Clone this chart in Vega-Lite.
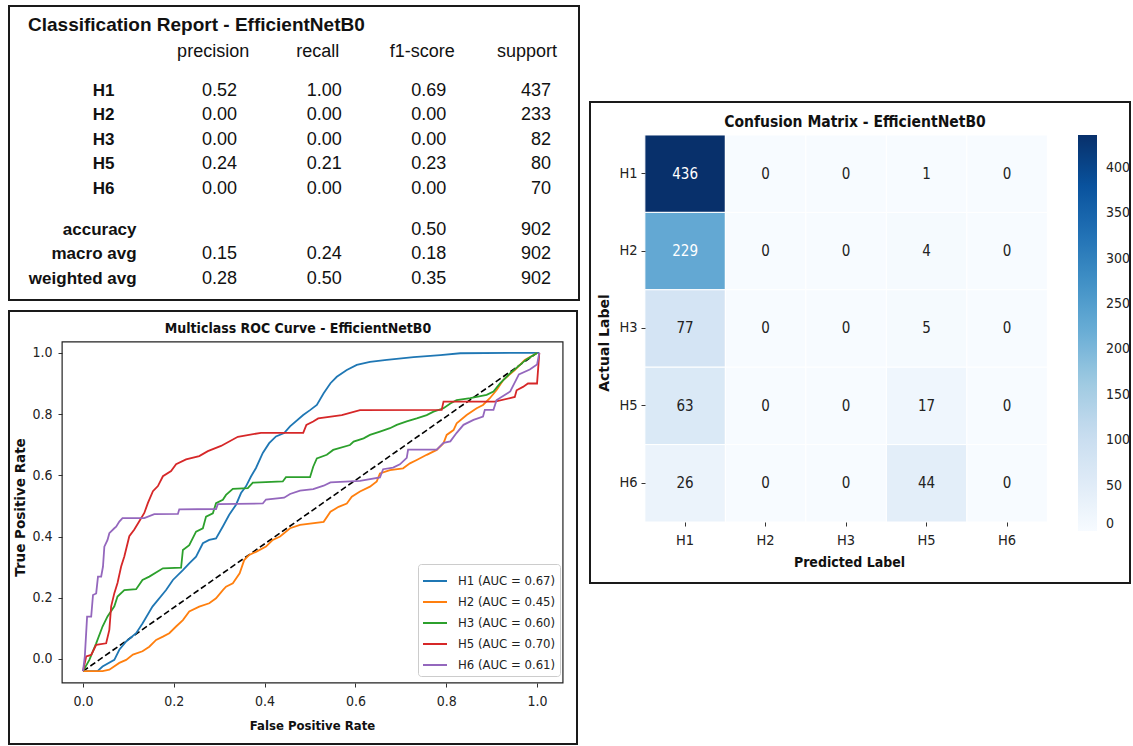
{
  "$schema": "https://vega.github.io/schema/vega-lite/v6.json",
  "background": "white",
  "padding": {"left": 8, "top": 5, "right": 0, "bottom": 0},
  "spacing": 9,
  "align": "none",
  "config": {
    "font": "DejaVu Sans Condensed",
    "axis": {"grid": false, "labelFont": "DejaVu Sans Condensed", "titleFont": "DejaVu Sans Condensed", "labelColor": "#222", "titleColor": "#111", "tickColor": "#333"},
    "title": {"color": "#111"}
  },
  "hconcat": [
    {
      "vconcat": [
        {
          "width": 570,
          "height": 294,
          "view": {"stroke": "#1a1a1a", "strokeWidth": 2},
          "title": {"text": "Classification Report - EfficientNetB0", "anchor": "start", "dx": 19, "offset": -29, "font": "Liberation Sans", "fontSize": 19, "fontWeight": "bold"},
          "data": {"values": [
            {"row": "header", "col": "precision", "text": "precision"},
            {"row": "header", "col": "recall", "text": "recall"},
            {"row": "header", "col": "f1-score", "text": "f1-score"},
            {"row": "header", "col": "support", "text": "support"},
            {"row": "H1", "col": "label", "text": "H1"},
            {"row": "H1", "col": "precision", "text": "0.52"},
            {"row": "H1", "col": "recall", "text": "1.00"},
            {"row": "H1", "col": "f1-score", "text": "0.69"},
            {"row": "H1", "col": "support", "text": "437"},
            {"row": "H2", "col": "label", "text": "H2"},
            {"row": "H2", "col": "precision", "text": "0.00"},
            {"row": "H2", "col": "recall", "text": "0.00"},
            {"row": "H2", "col": "f1-score", "text": "0.00"},
            {"row": "H2", "col": "support", "text": "233"},
            {"row": "H3", "col": "label", "text": "H3"},
            {"row": "H3", "col": "precision", "text": "0.00"},
            {"row": "H3", "col": "recall", "text": "0.00"},
            {"row": "H3", "col": "f1-score", "text": "0.00"},
            {"row": "H3", "col": "support", "text": "82"},
            {"row": "H5", "col": "label", "text": "H5"},
            {"row": "H5", "col": "precision", "text": "0.24"},
            {"row": "H5", "col": "recall", "text": "0.21"},
            {"row": "H5", "col": "f1-score", "text": "0.23"},
            {"row": "H5", "col": "support", "text": "80"},
            {"row": "H6", "col": "label", "text": "H6"},
            {"row": "H6", "col": "precision", "text": "0.00"},
            {"row": "H6", "col": "recall", "text": "0.00"},
            {"row": "H6", "col": "f1-score", "text": "0.00"},
            {"row": "H6", "col": "support", "text": "70"},
            {"row": "accuracy", "col": "label", "text": "accuracy"},
            {"row": "accuracy", "col": "f1-score", "text": "0.50"},
            {"row": "accuracy", "col": "support", "text": "902"},
            {"row": "macro avg", "col": "label", "text": "macro avg"},
            {"row": "macro avg", "col": "precision", "text": "0.15"},
            {"row": "macro avg", "col": "recall", "text": "0.24"},
            {"row": "macro avg", "col": "f1-score", "text": "0.18"},
            {"row": "macro avg", "col": "support", "text": "902"},
            {"row": "weighted avg", "col": "label", "text": "weighted avg"},
            {"row": "weighted avg", "col": "precision", "text": "0.28"},
            {"row": "weighted avg", "col": "recall", "text": "0.50"},
            {"row": "weighted avg", "col": "f1-score", "text": "0.35"},
            {"row": "weighted avg", "col": "support", "text": "902"}
          ]},
          "encoding": {
            "x": {"field": "col", "type": "ordinal", "axis": null, "scale": {"type": "point", "domain": ["label", "precision", "recall", "f1-score", "support"], "padding": 0.7245, "align": 0.815}},
            "y": {"field": "row", "type": "ordinal", "axis": null, "scale": {"type": "point", "domain": ["", " ", "header", "H1", "H2", "H3", "H5", "H6", "accuracy", "macro avg", "weighted avg", "  "], "padding": 0.5, "align": 0.469}},
            "text": {"field": "text"}
          },
          "layer": [
            {"transform": [{"filter": "datum.row === 'header'"}], "mark": {"type": "text", "align": "center", "dx": -24, "dy": -14.5, "font": "Liberation Sans", "fontSize": 18, "color": "#111"}},
            {"transform": [{"filter": "datum.col !== 'label' && datum.row !== 'header' && indexof(['accuracy','macro avg','weighted avg'], datum.row) < 0"}], "mark": {"type": "text", "align": "right", "font": "Liberation Sans", "fontSize": 18, "color": "#111"}},
            {"transform": [{"filter": "datum.col !== 'label' && indexof(['accuracy','macro avg','weighted avg'], datum.row) >= 0"}], "mark": {"type": "text", "align": "right", "dy": 16.5, "font": "Liberation Sans", "fontSize": 18, "color": "#111"}},
            {"transform": [{"filter": "datum.col === 'label' && indexof(['accuracy','macro avg','weighted avg'], datum.row) < 0"}], "mark": {"type": "text", "align": "center", "dx": -29, "font": "Liberation Sans", "fontSize": 17, "fontWeight": "bold", "color": "#111"}},
            {"transform": [{"filter": "datum.col === 'label' && indexof(['accuracy','macro avg','weighted avg'], datum.row) >= 0"}], "mark": {"type": "text", "align": "right", "dx": 4, "dy": 16.5, "font": "Liberation Sans", "fontSize": 17, "fontWeight": "bold", "color": "#111"}}
          ]
        },
        {
          "width": 568,
          "height": 433,
          "view": {"stroke": "#1a1a1a", "strokeWidth": 2},
          "title": {"text": "Multiclass ROC Curve - EfficientNetB0", "anchor": "middle", "dx": 5, "offset": -25, "font": "DejaVu Sans Condensed", "fontSize": 14, "fontWeight": "bold"},
          "layer": [
            {
              "data": {"values": [{"frame": "axes"}]},
              "mark": {"type": "rect", "fillOpacity": 0, "stroke": "#222", "strokeWidth": 1.2},
              "encoding": {
                "x": {"datum": -0.046, "type": "quantitative", "scale": {"domain": [-0.163, 1.088], "nice": false, "zero": false},
                      "axis": {"title": "False Positive Rate", "offset": -61, "values": [0, 0.2, 0.4, 0.6, 0.8, 1.0], "format": ".1f", "domain": false, "tickSize": 4, "labelPadding": 7, "labelFontSize": 14, "titleFontSize": 13, "titleFontWeight": "bold", "titlePadding": 11, "titleX": 303}},
                "x2": {"datum": 1.057},
                "y": {"datum": 1.036, "type": "quantitative", "scale": {"domain": [-0.278, 1.137], "nice": false, "zero": false},
                      "axis": {"title": "True Positive Rate", "offset": -53, "values": [0, 0.2, 0.4, 0.6, 0.8, 1.0], "format": ".1f", "domain": false, "tickSize": 4, "labelPadding": 6, "labelFontSize": 14, "titleFont": "DejaVu Sans", "titleFontSize": 13.5, "titleFontWeight": "bold", "titlePadding": 4, "titleY": 196}},
                "y2": {"datum": -0.078}
              }
            },
            {
              "data": {"values": [{"fpr": 0, "tpr": -0.04}, {"fpr": 1, "tpr": 1}]},
              "mark": {"type": "line", "color": "black", "strokeWidth": 1.6, "strokeDash": [6, 3]},
              "encoding": {
                "x": {"field": "fpr", "type": "quantitative", "scale": {"domain": [-0.163, 1.088], "nice": false, "zero": false},
                      "axis": {"title": "False Positive Rate", "offset": -61, "values": [0, 0.2, 0.4, 0.6, 0.8, 1.0], "format": ".1f", "domain": false, "tickSize": 4, "labelPadding": 7, "labelFontSize": 14, "titleFontSize": 13, "titleFontWeight": "bold", "titlePadding": 11, "titleX": 303}},
                "y": {"field": "tpr", "type": "quantitative", "scale": {"domain": [-0.278, 1.137], "nice": false, "zero": false},
                      "axis": {"title": "True Positive Rate", "offset": -53, "values": [0, 0.2, 0.4, 0.6, 0.8, 1.0], "format": ".1f", "domain": false, "tickSize": 4, "labelPadding": 6, "labelFontSize": 14, "titleFont": "DejaVu Sans", "titleFontSize": 13.5, "titleFontWeight": "bold", "titlePadding": 4, "titleY": 196}}
              }
            },
            {
              "data": {"values": [
                {"class": "H1 (AUC = 0.67)", "fpr": 0, "tpr": -0.04},
                {"class": "H1 (AUC = 0.67)", "fpr": 0.032, "tpr": -0.04},
                {"class": "H1 (AUC = 0.67)", "fpr": 0.043, "tpr": -0.025},
                {"class": "H1 (AUC = 0.67)", "fpr": 0.069, "tpr": -0.003},
                {"class": "H1 (AUC = 0.67)", "fpr": 0.08, "tpr": 0.03},
                {"class": "H1 (AUC = 0.67)", "fpr": 0.095, "tpr": 0.057},
                {"class": "H1 (AUC = 0.67)", "fpr": 0.117, "tpr": 0.084},
                {"class": "H1 (AUC = 0.67)", "fpr": 0.131, "tpr": 0.116},
                {"class": "H1 (AUC = 0.67)", "fpr": 0.153, "tpr": 0.171},
                {"class": "H1 (AUC = 0.67)", "fpr": 0.183, "tpr": 0.225},
                {"class": "H1 (AUC = 0.67)", "fpr": 0.198, "tpr": 0.258},
                {"class": "H1 (AUC = 0.67)", "fpr": 0.22, "tpr": 0.29},
                {"class": "H1 (AUC = 0.67)", "fpr": 0.234, "tpr": 0.312},
                {"class": "H1 (AUC = 0.67)", "fpr": 0.249, "tpr": 0.334},
                {"class": "H1 (AUC = 0.67)", "fpr": 0.264, "tpr": 0.378},
                {"class": "H1 (AUC = 0.67)", "fpr": 0.278, "tpr": 0.389},
                {"class": "H1 (AUC = 0.67)", "fpr": 0.293, "tpr": 0.394},
                {"class": "H1 (AUC = 0.67)", "fpr": 0.308, "tpr": 0.433},
                {"class": "H1 (AUC = 0.67)", "fpr": 0.322, "tpr": 0.471},
                {"class": "H1 (AUC = 0.67)", "fpr": 0.337, "tpr": 0.504},
                {"class": "H1 (AUC = 0.67)", "fpr": 0.348, "tpr": 0.542},
                {"class": "H1 (AUC = 0.67)", "fpr": 0.359, "tpr": 0.564},
                {"class": "H1 (AUC = 0.67)", "fpr": 0.37, "tpr": 0.596},
                {"class": "H1 (AUC = 0.67)", "fpr": 0.381, "tpr": 0.624},
                {"class": "H1 (AUC = 0.67)", "fpr": 0.396, "tpr": 0.673},
                {"class": "H1 (AUC = 0.67)", "fpr": 0.41, "tpr": 0.705},
                {"class": "H1 (AUC = 0.67)", "fpr": 0.425, "tpr": 0.727},
                {"class": "H1 (AUC = 0.67)", "fpr": 0.443, "tpr": 0.738},
                {"class": "H1 (AUC = 0.67)", "fpr": 0.456, "tpr": 0.76},
                {"class": "H1 (AUC = 0.67)", "fpr": 0.485, "tpr": 0.797},
                {"class": "H1 (AUC = 0.67)", "fpr": 0.5, "tpr": 0.813},
                {"class": "H1 (AUC = 0.67)", "fpr": 0.515, "tpr": 0.83},
                {"class": "H1 (AUC = 0.67)", "fpr": 0.53, "tpr": 0.868},
                {"class": "H1 (AUC = 0.67)", "fpr": 0.545, "tpr": 0.901},
                {"class": "H1 (AUC = 0.67)", "fpr": 0.559, "tpr": 0.922},
                {"class": "H1 (AUC = 0.67)", "fpr": 0.581, "tpr": 0.944},
                {"class": "H1 (AUC = 0.67)", "fpr": 0.603, "tpr": 0.961},
                {"class": "H1 (AUC = 0.67)", "fpr": 0.632, "tpr": 0.971},
                {"class": "H1 (AUC = 0.67)", "fpr": 0.669, "tpr": 0.977},
                {"class": "H1 (AUC = 0.67)", "fpr": 0.728, "tpr": 0.986},
                {"class": "H1 (AUC = 0.67)", "fpr": 0.787, "tpr": 0.993},
                {"class": "H1 (AUC = 0.67)", "fpr": 0.831, "tpr": 0.999},
                {"class": "H1 (AUC = 0.67)", "fpr": 0.95, "tpr": 1.0},
                {"class": "H1 (AUC = 0.67)", "fpr": 1.005, "tpr": 1.0},
                {"class": "H2 (AUC = 0.45)", "fpr": 0, "tpr": -0.04},
                {"class": "H2 (AUC = 0.45)", "fpr": 0.043, "tpr": -0.04},
                {"class": "H2 (AUC = 0.45)", "fpr": 0.058, "tpr": -0.035},
                {"class": "H2 (AUC = 0.45)", "fpr": 0.08, "tpr": -0.013},
                {"class": "H2 (AUC = 0.45)", "fpr": 0.095, "tpr": -0.003},
                {"class": "H2 (AUC = 0.45)", "fpr": 0.11, "tpr": 0.014},
                {"class": "H2 (AUC = 0.45)", "fpr": 0.131, "tpr": 0.025},
                {"class": "H2 (AUC = 0.45)", "fpr": 0.146, "tpr": 0.04},
                {"class": "H2 (AUC = 0.45)", "fpr": 0.161, "tpr": 0.062},
                {"class": "H2 (AUC = 0.45)", "fpr": 0.176, "tpr": 0.073},
                {"class": "H2 (AUC = 0.45)", "fpr": 0.19, "tpr": 0.084},
                {"class": "H2 (AUC = 0.45)", "fpr": 0.205, "tpr": 0.106},
                {"class": "H2 (AUC = 0.45)", "fpr": 0.22, "tpr": 0.127},
                {"class": "H2 (AUC = 0.45)", "fpr": 0.234, "tpr": 0.155},
                {"class": "H2 (AUC = 0.45)", "fpr": 0.256, "tpr": 0.171},
                {"class": "H2 (AUC = 0.45)", "fpr": 0.278, "tpr": 0.182},
                {"class": "H2 (AUC = 0.45)", "fpr": 0.293, "tpr": 0.198},
                {"class": "H2 (AUC = 0.45)", "fpr": 0.308, "tpr": 0.225},
                {"class": "H2 (AUC = 0.45)", "fpr": 0.315, "tpr": 0.236},
                {"class": "H2 (AUC = 0.45)", "fpr": 0.33, "tpr": 0.247},
                {"class": "H2 (AUC = 0.45)", "fpr": 0.345, "tpr": 0.28},
                {"class": "H2 (AUC = 0.45)", "fpr": 0.355, "tpr": 0.323},
                {"class": "H2 (AUC = 0.45)", "fpr": 0.366, "tpr": 0.34},
                {"class": "H2 (AUC = 0.45)", "fpr": 0.381, "tpr": 0.35},
                {"class": "H2 (AUC = 0.45)", "fpr": 0.403, "tpr": 0.367},
                {"class": "H2 (AUC = 0.45)", "fpr": 0.418, "tpr": 0.389},
                {"class": "H2 (AUC = 0.45)", "fpr": 0.434, "tpr": 0.4},
                {"class": "H2 (AUC = 0.45)", "fpr": 0.456, "tpr": 0.427},
                {"class": "H2 (AUC = 0.45)", "fpr": 0.478, "tpr": 0.438},
                {"class": "H2 (AUC = 0.45)", "fpr": 0.53, "tpr": 0.448},
                {"class": "H2 (AUC = 0.45)", "fpr": 0.545, "tpr": 0.481},
                {"class": "H2 (AUC = 0.45)", "fpr": 0.563, "tpr": 0.497},
                {"class": "H2 (AUC = 0.45)", "fpr": 0.581, "tpr": 0.508},
                {"class": "H2 (AUC = 0.45)", "fpr": 0.592, "tpr": 0.53},
                {"class": "H2 (AUC = 0.45)", "fpr": 0.61, "tpr": 0.547},
                {"class": "H2 (AUC = 0.45)", "fpr": 0.632, "tpr": 0.563},
                {"class": "H2 (AUC = 0.45)", "fpr": 0.647, "tpr": 0.58},
                {"class": "H2 (AUC = 0.45)", "fpr": 0.654, "tpr": 0.606},
                {"class": "H2 (AUC = 0.45)", "fpr": 0.676, "tpr": 0.617},
                {"class": "H2 (AUC = 0.45)", "fpr": 0.705, "tpr": 0.623},
                {"class": "H2 (AUC = 0.45)", "fpr": 0.72, "tpr": 0.639},
                {"class": "H2 (AUC = 0.45)", "fpr": 0.735, "tpr": 0.65},
                {"class": "H2 (AUC = 0.45)", "fpr": 0.757, "tpr": 0.667},
                {"class": "H2 (AUC = 0.45)", "fpr": 0.779, "tpr": 0.683},
                {"class": "H2 (AUC = 0.45)", "fpr": 0.794, "tpr": 0.705},
                {"class": "H2 (AUC = 0.45)", "fpr": 0.801, "tpr": 0.732},
                {"class": "H2 (AUC = 0.45)", "fpr": 0.816, "tpr": 0.748},
                {"class": "H2 (AUC = 0.45)", "fpr": 0.823, "tpr": 0.77},
                {"class": "H2 (AUC = 0.45)", "fpr": 0.845, "tpr": 0.797},
                {"class": "H2 (AUC = 0.45)", "fpr": 0.867, "tpr": 0.819},
                {"class": "H2 (AUC = 0.45)", "fpr": 0.881, "tpr": 0.83},
                {"class": "H2 (AUC = 0.45)", "fpr": 0.896, "tpr": 0.852},
                {"class": "H2 (AUC = 0.45)", "fpr": 0.911, "tpr": 0.879},
                {"class": "H2 (AUC = 0.45)", "fpr": 0.926, "tpr": 0.912},
                {"class": "H2 (AUC = 0.45)", "fpr": 0.951, "tpr": 0.944},
                {"class": "H2 (AUC = 0.45)", "fpr": 0.973, "tpr": 0.977},
                {"class": "H2 (AUC = 0.45)", "fpr": 1.0, "tpr": 1.0},
                {"class": "H3 (AUC = 0.60)", "fpr": 0, "tpr": -0.04},
                {"class": "H3 (AUC = 0.60)", "fpr": 0.014, "tpr": -0.003},
                {"class": "H3 (AUC = 0.60)", "fpr": 0.029, "tpr": 0.051},
                {"class": "H3 (AUC = 0.60)", "fpr": 0.043, "tpr": 0.106},
                {"class": "H3 (AUC = 0.60)", "fpr": 0.054, "tpr": 0.139},
                {"class": "H3 (AUC = 0.60)", "fpr": 0.069, "tpr": 0.172},
                {"class": "H3 (AUC = 0.60)", "fpr": 0.076, "tpr": 0.204},
                {"class": "H3 (AUC = 0.60)", "fpr": 0.091, "tpr": 0.225},
                {"class": "H3 (AUC = 0.60)", "fpr": 0.117, "tpr": 0.228},
                {"class": "H3 (AUC = 0.60)", "fpr": 0.131, "tpr": 0.258},
                {"class": "H3 (AUC = 0.60)", "fpr": 0.146, "tpr": 0.269},
                {"class": "H3 (AUC = 0.60)", "fpr": 0.176, "tpr": 0.296},
                {"class": "H3 (AUC = 0.60)", "fpr": 0.216, "tpr": 0.298},
                {"class": "H3 (AUC = 0.60)", "fpr": 0.22, "tpr": 0.356},
                {"class": "H3 (AUC = 0.60)", "fpr": 0.234, "tpr": 0.372},
                {"class": "H3 (AUC = 0.60)", "fpr": 0.249, "tpr": 0.416},
                {"class": "H3 (AUC = 0.60)", "fpr": 0.264, "tpr": 0.427},
                {"class": "H3 (AUC = 0.60)", "fpr": 0.271, "tpr": 0.465},
                {"class": "H3 (AUC = 0.60)", "fpr": 0.286, "tpr": 0.476},
                {"class": "H3 (AUC = 0.60)", "fpr": 0.293, "tpr": 0.509},
                {"class": "H3 (AUC = 0.60)", "fpr": 0.308, "tpr": 0.52},
                {"class": "H3 (AUC = 0.60)", "fpr": 0.315, "tpr": 0.536},
                {"class": "H3 (AUC = 0.60)", "fpr": 0.33, "tpr": 0.556},
                {"class": "H3 (AUC = 0.60)", "fpr": 0.363, "tpr": 0.558},
                {"class": "H3 (AUC = 0.60)", "fpr": 0.374, "tpr": 0.576},
                {"class": "H3 (AUC = 0.60)", "fpr": 0.44, "tpr": 0.58},
                {"class": "H3 (AUC = 0.60)", "fpr": 0.447, "tpr": 0.594},
                {"class": "H3 (AUC = 0.60)", "fpr": 0.5, "tpr": 0.594},
                {"class": "H3 (AUC = 0.60)", "fpr": 0.507, "tpr": 0.628},
                {"class": "H3 (AUC = 0.60)", "fpr": 0.515, "tpr": 0.655},
                {"class": "H3 (AUC = 0.60)", "fpr": 0.537, "tpr": 0.667},
                {"class": "H3 (AUC = 0.60)", "fpr": 0.551, "tpr": 0.683},
                {"class": "H3 (AUC = 0.60)", "fpr": 0.588, "tpr": 0.699},
                {"class": "H3 (AUC = 0.60)", "fpr": 0.596, "tpr": 0.71},
                {"class": "H3 (AUC = 0.60)", "fpr": 0.618, "tpr": 0.721},
                {"class": "H3 (AUC = 0.60)", "fpr": 0.632, "tpr": 0.732},
                {"class": "H3 (AUC = 0.60)", "fpr": 0.654, "tpr": 0.743},
                {"class": "H3 (AUC = 0.60)", "fpr": 0.676, "tpr": 0.754},
                {"class": "H3 (AUC = 0.60)", "fpr": 0.691, "tpr": 0.765},
                {"class": "H3 (AUC = 0.60)", "fpr": 0.713, "tpr": 0.776},
                {"class": "H3 (AUC = 0.60)", "fpr": 0.735, "tpr": 0.786},
                {"class": "H3 (AUC = 0.60)", "fpr": 0.757, "tpr": 0.797},
                {"class": "H3 (AUC = 0.60)", "fpr": 0.772, "tpr": 0.808},
                {"class": "H3 (AUC = 0.60)", "fpr": 0.794, "tpr": 0.819},
                {"class": "H3 (AUC = 0.60)", "fpr": 0.809, "tpr": 0.835},
                {"class": "H3 (AUC = 0.60)", "fpr": 0.823, "tpr": 0.846},
                {"class": "H3 (AUC = 0.60)", "fpr": 0.853, "tpr": 0.852},
                {"class": "H3 (AUC = 0.60)", "fpr": 0.889, "tpr": 0.863},
                {"class": "H3 (AUC = 0.60)", "fpr": 0.904, "tpr": 0.874},
                {"class": "H3 (AUC = 0.60)", "fpr": 0.919, "tpr": 0.901},
                {"class": "H3 (AUC = 0.60)", "fpr": 0.941, "tpr": 0.934},
                {"class": "H3 (AUC = 0.60)", "fpr": 0.976, "tpr": 0.978},
                {"class": "H3 (AUC = 0.60)", "fpr": 1.0, "tpr": 1.0},
                {"class": "H5 (AUC = 0.70)", "fpr": 0, "tpr": -0.04},
                {"class": "H5 (AUC = 0.70)", "fpr": 0.007, "tpr": 0.008},
                {"class": "H5 (AUC = 0.70)", "fpr": 0.018, "tpr": 0.013},
                {"class": "H5 (AUC = 0.70)", "fpr": 0.029, "tpr": 0.046},
                {"class": "H5 (AUC = 0.70)", "fpr": 0.051, "tpr": 0.051},
                {"class": "H5 (AUC = 0.70)", "fpr": 0.058, "tpr": 0.095},
                {"class": "H5 (AUC = 0.70)", "fpr": 0.062, "tpr": 0.172},
                {"class": "H5 (AUC = 0.70)", "fpr": 0.069, "tpr": 0.215},
                {"class": "H5 (AUC = 0.70)", "fpr": 0.076, "tpr": 0.248},
                {"class": "H5 (AUC = 0.70)", "fpr": 0.084, "tpr": 0.302},
                {"class": "H5 (AUC = 0.70)", "fpr": 0.091, "tpr": 0.335},
                {"class": "H5 (AUC = 0.70)", "fpr": 0.102, "tpr": 0.401},
                {"class": "H5 (AUC = 0.70)", "fpr": 0.113, "tpr": 0.423},
                {"class": "H5 (AUC = 0.70)", "fpr": 0.124, "tpr": 0.45},
                {"class": "H5 (AUC = 0.70)", "fpr": 0.135, "tpr": 0.477},
                {"class": "H5 (AUC = 0.70)", "fpr": 0.143, "tpr": 0.51},
                {"class": "H5 (AUC = 0.70)", "fpr": 0.154, "tpr": 0.548},
                {"class": "H5 (AUC = 0.70)", "fpr": 0.165, "tpr": 0.565},
                {"class": "H5 (AUC = 0.70)", "fpr": 0.176, "tpr": 0.597},
                {"class": "H5 (AUC = 0.70)", "fpr": 0.194, "tpr": 0.614},
                {"class": "H5 (AUC = 0.70)", "fpr": 0.205, "tpr": 0.636},
                {"class": "H5 (AUC = 0.70)", "fpr": 0.227, "tpr": 0.652},
                {"class": "H5 (AUC = 0.70)", "fpr": 0.256, "tpr": 0.663},
                {"class": "H5 (AUC = 0.70)", "fpr": 0.275, "tpr": 0.679},
                {"class": "H5 (AUC = 0.70)", "fpr": 0.304, "tpr": 0.696},
                {"class": "H5 (AUC = 0.70)", "fpr": 0.341, "tpr": 0.726},
                {"class": "H5 (AUC = 0.70)", "fpr": 0.392, "tpr": 0.739},
                {"class": "H5 (AUC = 0.70)", "fpr": 0.485, "tpr": 0.739},
                {"class": "H5 (AUC = 0.70)", "fpr": 0.492, "tpr": 0.765},
                {"class": "H5 (AUC = 0.70)", "fpr": 0.507, "tpr": 0.776},
                {"class": "H5 (AUC = 0.70)", "fpr": 0.518, "tpr": 0.786},
                {"class": "H5 (AUC = 0.70)", "fpr": 0.57, "tpr": 0.797},
                {"class": "H5 (AUC = 0.70)", "fpr": 0.61, "tpr": 0.813},
                {"class": "H5 (AUC = 0.70)", "fpr": 0.79, "tpr": 0.814},
                {"class": "H5 (AUC = 0.70)", "fpr": 0.794, "tpr": 0.841},
                {"class": "H5 (AUC = 0.70)", "fpr": 0.907, "tpr": 0.841},
                {"class": "H5 (AUC = 0.70)", "fpr": 0.951, "tpr": 0.856},
                {"class": "H5 (AUC = 0.70)", "fpr": 0.955, "tpr": 0.878},
                {"class": "H5 (AUC = 0.70)", "fpr": 0.969, "tpr": 0.889},
                {"class": "H5 (AUC = 0.70)", "fpr": 0.98, "tpr": 0.9},
                {"class": "H5 (AUC = 0.70)", "fpr": 1.0, "tpr": 0.9},
                {"class": "H5 (AUC = 0.70)", "fpr": 1.005, "tpr": 1.0},
                {"class": "H6 (AUC = 0.61)", "fpr": 0, "tpr": -0.04},
                {"class": "H6 (AUC = 0.61)", "fpr": 0.004, "tpr": 0.008},
                {"class": "H6 (AUC = 0.61)", "fpr": 0.009, "tpr": 0.138},
                {"class": "H6 (AUC = 0.61)", "fpr": 0.018, "tpr": 0.138},
                {"class": "H6 (AUC = 0.61)", "fpr": 0.022, "tpr": 0.209},
                {"class": "H6 (AUC = 0.61)", "fpr": 0.029, "tpr": 0.214},
                {"class": "H6 (AUC = 0.61)", "fpr": 0.033, "tpr": 0.269},
                {"class": "H6 (AUC = 0.61)", "fpr": 0.04, "tpr": 0.269},
                {"class": "H6 (AUC = 0.61)", "fpr": 0.044, "tpr": 0.302},
                {"class": "H6 (AUC = 0.61)", "fpr": 0.047, "tpr": 0.367},
                {"class": "H6 (AUC = 0.61)", "fpr": 0.054, "tpr": 0.389},
                {"class": "H6 (AUC = 0.61)", "fpr": 0.058, "tpr": 0.411},
                {"class": "H6 (AUC = 0.61)", "fpr": 0.069, "tpr": 0.427},
                {"class": "H6 (AUC = 0.61)", "fpr": 0.073, "tpr": 0.432},
                {"class": "H6 (AUC = 0.61)", "fpr": 0.08, "tpr": 0.449},
                {"class": "H6 (AUC = 0.61)", "fpr": 0.087, "tpr": 0.46},
                {"class": "H6 (AUC = 0.61)", "fpr": 0.135, "tpr": 0.46},
                {"class": "H6 (AUC = 0.61)", "fpr": 0.157, "tpr": 0.473},
                {"class": "H6 (AUC = 0.61)", "fpr": 0.209, "tpr": 0.474},
                {"class": "H6 (AUC = 0.61)", "fpr": 0.212, "tpr": 0.489},
                {"class": "H6 (AUC = 0.61)", "fpr": 0.293, "tpr": 0.49},
                {"class": "H6 (AUC = 0.61)", "fpr": 0.297, "tpr": 0.506},
                {"class": "H6 (AUC = 0.61)", "fpr": 0.396, "tpr": 0.508},
                {"class": "H6 (AUC = 0.61)", "fpr": 0.403, "tpr": 0.521},
                {"class": "H6 (AUC = 0.61)", "fpr": 0.443, "tpr": 0.527},
                {"class": "H6 (AUC = 0.61)", "fpr": 0.456, "tpr": 0.539},
                {"class": "H6 (AUC = 0.61)", "fpr": 0.478, "tpr": 0.55},
                {"class": "H6 (AUC = 0.61)", "fpr": 0.507, "tpr": 0.555},
                {"class": "H6 (AUC = 0.61)", "fpr": 0.53, "tpr": 0.566},
                {"class": "H6 (AUC = 0.61)", "fpr": 0.545, "tpr": 0.577},
                {"class": "H6 (AUC = 0.61)", "fpr": 0.61, "tpr": 0.582},
                {"class": "H6 (AUC = 0.61)", "fpr": 0.654, "tpr": 0.593},
                {"class": "H6 (AUC = 0.61)", "fpr": 0.661, "tpr": 0.62},
                {"class": "H6 (AUC = 0.61)", "fpr": 0.683, "tpr": 0.625},
                {"class": "H6 (AUC = 0.61)", "fpr": 0.698, "tpr": 0.636},
                {"class": "H6 (AUC = 0.61)", "fpr": 0.713, "tpr": 0.657},
                {"class": "H6 (AUC = 0.61)", "fpr": 0.716, "tpr": 0.684},
                {"class": "H6 (AUC = 0.61)", "fpr": 0.779, "tpr": 0.684},
                {"class": "H6 (AUC = 0.61)", "fpr": 0.794, "tpr": 0.706},
                {"class": "H6 (AUC = 0.61)", "fpr": 0.809, "tpr": 0.711},
                {"class": "H6 (AUC = 0.61)", "fpr": 0.823, "tpr": 0.739},
                {"class": "H6 (AUC = 0.61)", "fpr": 0.838, "tpr": 0.765},
                {"class": "H6 (AUC = 0.61)", "fpr": 0.86, "tpr": 0.781},
                {"class": "H6 (AUC = 0.61)", "fpr": 0.881, "tpr": 0.792},
                {"class": "H6 (AUC = 0.61)", "fpr": 0.885, "tpr": 0.814},
                {"class": "H6 (AUC = 0.61)", "fpr": 0.904, "tpr": 0.814},
                {"class": "H6 (AUC = 0.61)", "fpr": 0.911, "tpr": 0.846},
                {"class": "H6 (AUC = 0.61)", "fpr": 0.941, "tpr": 0.874},
                {"class": "H6 (AUC = 0.61)", "fpr": 0.96, "tpr": 0.93},
                {"class": "H6 (AUC = 0.61)", "fpr": 0.984, "tpr": 0.946},
                {"class": "H6 (AUC = 0.61)", "fpr": 1.0, "tpr": 0.962},
                {"class": "H6 (AUC = 0.61)", "fpr": 1.005, "tpr": 1.0}
              ]},
              "mark": {"type": "line", "strokeWidth": 1.8},
              "encoding": {
                "x": {"field": "fpr", "type": "quantitative", "scale": {"domain": [-0.163, 1.088], "nice": false, "zero": false},
                      "axis": {"title": "False Positive Rate", "offset": -61, "values": [0, 0.2, 0.4, 0.6, 0.8, 1.0], "format": ".1f", "domain": false, "tickSize": 4, "labelPadding": 7, "labelFontSize": 14, "titleFontSize": 13, "titleFontWeight": "bold", "titlePadding": 11, "titleX": 303}},
                "y": {"field": "tpr", "type": "quantitative", "scale": {"domain": [-0.278, 1.137], "nice": false, "zero": false},
                      "axis": {"title": "True Positive Rate", "offset": -53, "values": [0, 0.2, 0.4, 0.6, 0.8, 1.0], "format": ".1f", "domain": false, "tickSize": 4, "labelPadding": 6, "labelFontSize": 14, "titleFont": "DejaVu Sans", "titleFontSize": 13.5, "titleFontWeight": "bold", "titlePadding": 4, "titleY": 196}},
                "color": {"field": "class", "type": "nominal",
                          "scale": {"domain": ["H1 (AUC = 0.67)", "H2 (AUC = 0.45)", "H3 (AUC = 0.60)", "H5 (AUC = 0.70)", "H6 (AUC = 0.61)"], "range": ["#1f77b4", "#ff7f0e", "#2ca02c", "#d62728", "#9467bd"]},
                          "legend": {"title": null, "orient": "none", "legendX": 409, "legendY": 558, "symbolType": "stroke", "symbolSize": 576, "symbolStrokeWidth": 2, "labelFont": "DejaVu Sans Condensed", "labelFontSize": 13, "labelColor": "#222", "labelOffset": 10, "rowPadding": 1, "padding": 4, "strokeColor": "#cccccc", "fillColor": "white", "cornerRadius": 3}}
              }
            }
          ]
        }
      ],
      "spacing": 9,
      "align": "none"
    },
    {
      "vconcat": [
        {
          "width": 10,
          "height": 89,
          "view": {"stroke": null},
          "data": {"values": [{"spacer": 1}]},
          "mark": {"type": "text", "text": ""},
          "encoding": {}
        },
        {
          "width": 540,
          "height": 481,
          "view": {"stroke": "#1a1a1a", "strokeWidth": 2},
          "title": {"text": "Confusion Matrix - EfficientNetB0", "anchor": "middle", "dx": -5, "offset": -28, "font": "DejaVu Sans Condensed", "fontSize": 15.5, "fontWeight": "bold"},
          "data": {"values": [
            {"actual": "H1", "predicted": "H1", "count": 436},
            {"actual": "H1", "predicted": "H2", "count": 0},
            {"actual": "H1", "predicted": "H3", "count": 0},
            {"actual": "H1", "predicted": "H5", "count": 1},
            {"actual": "H1", "predicted": "H6", "count": 0},
            {"actual": "H2", "predicted": "H1", "count": 229},
            {"actual": "H2", "predicted": "H2", "count": 0},
            {"actual": "H2", "predicted": "H3", "count": 0},
            {"actual": "H2", "predicted": "H5", "count": 4},
            {"actual": "H2", "predicted": "H6", "count": 0},
            {"actual": "H3", "predicted": "H1", "count": 77},
            {"actual": "H3", "predicted": "H2", "count": 0},
            {"actual": "H3", "predicted": "H3", "count": 0},
            {"actual": "H3", "predicted": "H5", "count": 5},
            {"actual": "H3", "predicted": "H6", "count": 0},
            {"actual": "H5", "predicted": "H1", "count": 63},
            {"actual": "H5", "predicted": "H2", "count": 0},
            {"actual": "H5", "predicted": "H3", "count": 0},
            {"actual": "H5", "predicted": "H5", "count": 17},
            {"actual": "H5", "predicted": "H6", "count": 0},
            {"actual": "H6", "predicted": "H1", "count": 26},
            {"actual": "H6", "predicted": "H2", "count": 0},
            {"actual": "H6", "predicted": "H3", "count": 0},
            {"actual": "H6", "predicted": "H5", "count": 44},
            {"actual": "H6", "predicted": "H6", "count": 0}
          ]},
          "encoding": {
            "x": {"field": "predicted", "type": "nominal",
                  "scale": {"type": "band", "domain": ["H1", "H2", "H3", "H5", "H6"], "paddingInner": 0, "paddingOuter": 0.854, "align": 0.399},
                  "axis": {"title": "Predicted Label", "offset": -61, "domain": false, "labelAngle": 0, "tickSize": 4, "labelPadding": 7, "labelFontSize": 14.5, "titleFontSize": 14, "titleFontWeight": "bold", "titlePadding": 9, "titleX": 259}},
            "y": {"field": "actual", "type": "nominal",
                  "scale": {"type": "band", "domain": ["H1", "H2", "H3", "H5", "H6"], "paddingInner": 0, "paddingOuter": 0.607, "align": 0.351},
                  "axis": {"title": "Actual Label", "offset": -55, "domain": false, "tickSize": 4, "labelPadding": 4, "labelFontSize": 14.5, "titleFont": "DejaVu Sans", "titleFontSize": 14, "titleFontWeight": "bold", "titlePadding": 7}}
          },
          "layer": [
            {
              "mark": {"type": "rect", "stroke": "white", "strokeWidth": 1},
              "encoding": {
                "color": {"field": "count", "type": "quantitative",
                          "scale": {"domain": [0, 54.5, 109, 163.5, 218, 272.5, 327, 381.5, 436], "range": ["#f7fbff", "#deebf7", "#c6dbef", "#9ecae1", "#6baed6", "#4292c6", "#2171b5", "#08519c", "#08306b"], "interpolate": "rgb"},
                          "legend": {"title": null, "orient": "none", "legendX": 488, "legendY": 129, "direction": "vertical", "gradientLength": 396, "gradientThickness": 19, "gradientStrokeWidth": 0, "values": [0, 50, 100, 150, 200, 250, 300, 350, 400], "labelFont": "DejaVu Sans Condensed", "labelFontSize": 14, "labelColor": "#222", "labelOffset": 9, "labelFlush": false, "labelOverlap": false, "padding": 0}}
              }
            },
            {
              "mark": {"type": "text", "font": "DejaVu Sans Condensed", "fontSize": 15},
              "encoding": {
                "text": {"field": "count", "type": "quantitative"},
                "color": {"condition": {"test": "datum.count > 218", "value": "white"}, "value": "#222"}
              }
            }
          ]
        }
      ],
      "spacing": 6,
      "align": "none"
    }
  ]
}
